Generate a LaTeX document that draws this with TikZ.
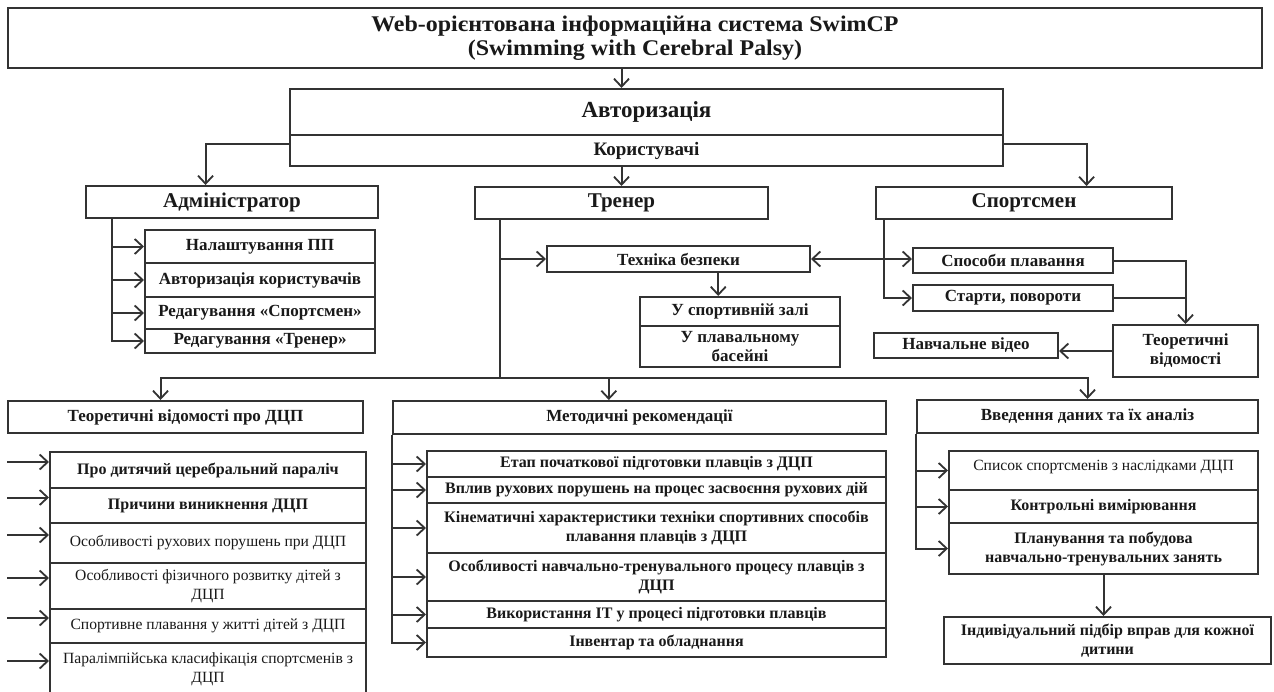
\documentclass[tikz,border=0pt]{standalone}
\usepackage{fontspec}
\setmainfont{Liberation Serif}
\newfontfamily\ttlfont{Liberation Serif}[FakeStretch=1.07]
\usetikzlibrary{arrows.meta,calc}
\tikzset{
  box/.style={draw=black!80, line width=1pt, inner sep=1pt, align=center, text=black!90, fill=white},
  tip/.tip={Straight Barb[length=4pt,width=7.5pt,line width=0.9pt]},
  arr/.style={draw=black!80, line width=1pt, -tip},
  ln/.style={draw=black!80, line width=1pt},
  fT/.style={font=\ttlfont\bfseries\fontsize{11.2}{12}\selectfont},
  fA/.style={font=\bfseries\fontsize{11.5}{13}\selectfont},
  fU/.style={font=\bfseries\fontsize{9.5}{11}\selectfont},
  fR/.style={font=\bfseries\fontsize{10.5}{12}\selectfont},
  fS/.style={font=\bfseries\fontsize{8.5}{9.5}\selectfont},
  fB/.style={font=\bfseries\fontsize{8}{9.5}\selectfont},
  fN/.style={font=\fontsize{7.8}{9.5}\selectfont},
}
\newcommand\bx[7][]{\node[box,#1,minimum width={(#5-#3)*0.5pt},minimum height={(#6-#4)*0.5pt}] (#2) at ({(#3+#5)/2},{(#4+#6)/2}) {#7};}
\begin{document}
\begin{tikzpicture}[x=0.5pt,y=-0.5pt]
\useasboundingbox (0,0) rectangle (1274,691);
\fill[white] (0,0) rectangle (1274,691);
% top
\bx[fT]{title}{8}{8}{1262}{68}{Web-орієнтована інформаційна система SwimCP\\(Swimming with Cerebral Palsy)}
\bx[fA]{auth}{290}{89}{1003}{135}{Авторизація}
\bx[fU]{users}{290}{135}{1003}{166}{Користувачі}
\bx[fR]{adm}{86}{186}{378}{218}{Адміністратор}
\bx[fR]{tren}{475}{187}{768}{219}{Тренер}
\bx[fR]{sport}{876}{187}{1172}{219}{Спортсмен}
% admin items
\bx[fS]{a1}{145}{230}{375}{263}{Налаштування ПП}
\bx[fS]{a2}{145}{263}{375}{297}{Авторизація користувачів}
\bx[fS]{a3}{145}{297}{375}{329}{Редагування «Спортсмен»}
\bx[fS]{a4}{145}{329}{375}{353}{Редагування «Тренер»}
% trainer items
\bx[fS]{tech}{547}{246}{810}{272}{Техніка безпеки}
\bx[fS]{gym}{640}{297}{840}{326}{У спортивній залі}
\bx[fS]{pool}{640}{326}{840}{367}{У плавальному\\басейні}
% sportsman items
\bx[fS]{spos}{913}{248}{1113}{273}{Способи плавання}
\bx[fS]{start}{913}{285}{1113}{311}{Старти, повороти}
\bx[fS]{teor}{1113}{325}{1258}{377}{Теоретичні\\відомості}
\bx[fS]{video}{874}{333}{1058}{358}{Навчальне відео}
% bottom left
\bx[fS]{th}{8}{401}{363}{433}{Теоретичні відомості про ДЦП}
\bx[fB]{t1}{50}{452}{366}{488}{Про дитячий церебральний параліч}
\bx[fB]{t2}{50}{488}{366}{523}{Причини виникнення ДЦП}
\bx[fN]{t3}{50}{523}{366}{563}{Особливості рухових порушень при ДЦП}
\bx[fN]{t4}{50}{563}{366}{609}{Особливості фізичного розвитку дітей з\\ДЦП}
\bx[fN]{t5}{50}{609}{366}{643}{Спортивне плавання у житті дітей з ДЦП}
\bx[fN]{t6}{50}{643}{366}{695}{Паралімпійська класифікація спортсменів з\\ДЦП}
% bottom middle
\bx[fS]{mh}{393}{401}{886}{434}{Методичні рекомендації}
\bx[fB]{m1}{427}{451}{886}{477}{Етап початкової підготовки плавців з ДЦП}
\bx[fB]{m2}{427}{477}{886}{503}{Вплив рухових порушень на процес засвоєння рухових дій}
\bx[fB]{m3}{427}{503}{886}{553}{Кінематичні характеристики техніки спортивних способів\\плавання плавців з ДЦП}
\bx[fB]{m4}{427}{553}{886}{601}{Особливості навчально-тренувального процесу плавців з\\ДЦП}
\bx[fB]{m5}{427}{601}{886}{628}{Використання ІТ у процесі підготовки плавців}
\bx[fB]{m6}{427}{628}{886}{657}{Інвентар та обладнання}
% bottom right
\bx[fS]{vh}{917}{400}{1258}{433}{Введення даних та їх аналіз}
\bx[fN]{v1}{949}{451}{1258}{490}{\raisebox{5pt}{Список спортсменів з наслідками ДЦП}}
\bx[fB]{v2}{949}{490}{1258}{523}{Контрольні вимірювання}
\bx[fB]{v3}{949}{523}{1258}{574}{Планування та побудова\\навчально-тренувальних занять}
\bx[fB]{ind}{944}{617}{1271}{664}{Індивідуальний підбір вправ для кожної\\дитини}
% connectors top
\draw[arr] (title.south -| tren.north) -- (auth.north -| tren.north);
\draw[arr] (users.south -| tren.north) -- (tren.north);
\coordinate (admIn) at ($(adm.north west)!0.41!(adm.north east)$);
\draw[arr] ([yshift=3.5pt]users.west) -| (admIn);
\coordinate (spIn) at ($(sport.north west)!0.71!(sport.north east)$);
\draw[arr] ([yshift=3.5pt]users.east) -| (spIn);
% admin
\coordinate (admL) at ($(adm.south west)!0.092!(adm.south east)$);
\foreach \r in {a1,a2,a3,a4} {\draw[arr] (admL) |- (\r.west);}
% trainer
\coordinate (trL) at ($(tren.south west)!0.089!(tren.south east)$);
\draw[arr] (trL |- tech.west) -- (tech.west);
\coordinate (techOut) at ($(tech.south west)!0.65!(tech.south east)$);
\draw[arr] (techOut) -- (techOut |- gym.north);
\draw[ln, tip-tip] (tech.east) -- (tech.east -| spos.west);
% sportsman
\coordinate (spL) at ($(sport.south west)!0.03!(sport.south east)$);
\draw[arr] (spL) |- (start.west);
\draw[arr] (spos.east) -| (teor.north);
\draw[ln] (start.east) -- (start.east -| teor.north);
\draw[arr] (teor.west) -- (teor.west -| video.east);
% bus
\coordinate (bus) at ($(trL)+(0,158)$);
\coordinate (thIn) at ($(th.north west)!0.43!(th.north east)$);
\coordinate (mhIn) at ($(mh.north west)!0.438!(mh.north east)$);
\draw[ln] (trL) -- (bus);
\draw[arr] (bus) -| (thIn);
\draw[arr] (bus) -| (mhIn);
\draw[arr] (bus) -| (vh.north);
% bottom connectors
\foreach \r in {t1,t2,t3,t4,t5,t6} {\path ([yshift=4pt]\r.west) coordinate (p); \draw[arr] (p -| th.west) -- (p);}
\foreach \r in {m1,m2,m3,m4,m5,m6} {\draw[arr] (mh.south west) |- (\r.west);}
\foreach \r in {v1,v2,v3} {\draw[arr] (vh.south west) |- (\r.west);}
\draw[arr] (v3.south) -- (v3.south |- ind.north);
\end{tikzpicture}
\end{document}
